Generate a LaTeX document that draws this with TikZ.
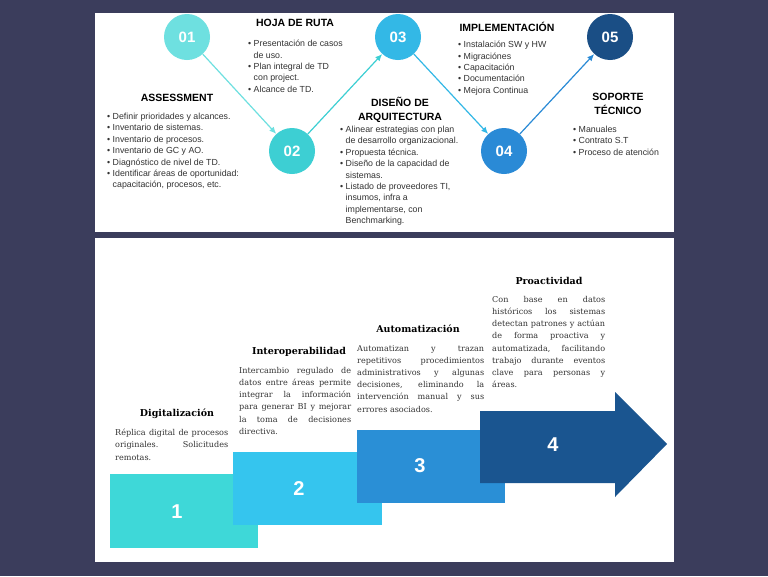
\documentclass[tikz,border=0pt]{standalone}
\usepackage{fontspec}
\setmainfont{DejaVu Serif}
\setsansfont{Liberation Sans}
\usetikzlibrary{arrows.meta}
\hyphenpenalty=10000
\exhyphenpenalty=10000
\definecolor{bg}{HTML}{3B3D5C}
\definecolor{cA}{HTML}{6EE0E0}
\definecolor{cB}{HTML}{3DCFD3}
\definecolor{cC}{HTML}{33B8E6}
\definecolor{cD}{HTML}{2A8AD6}
\definecolor{cE}{HTML}{1A4E85}
\definecolor{sA}{HTML}{3ED8D8}
\definecolor{sB}{HTML}{35C5EE}
\definecolor{sC}{HTML}{2A8FD6}
\definecolor{sD}{HTML}{1A5590}
\definecolor{txt}{HTML}{333333}
\begin{document}
\begin{tikzpicture}[x=1pt,y=-1pt,
  circ/.style={circle,minimum size=46pt,inner sep=0pt,text=white,font=\sffamily\bfseries\fontsize{15}{15}\selectfont},
  conn/.style={line width=1.2pt,-{Latex[length=7pt,width=6pt]}},
  head/.style={font=\sffamily\bfseries\fontsize{10.5}{14}\selectfont,text=black,align=center},
  lst/.style={font=\sffamily\fontsize{8.8}{11.4}\selectfont,text=txt,align=left,anchor=north west,inner sep=0pt},
  shead/.style={font=\bfseries\fontsize{9.5}{11}\selectfont,text=black},
  stxt/.style={font=\fontsize{8.1}{12.2}\selectfont,text=txt,align=justify,anchor=north west,inner sep=0pt},
  num/.style={text=white,font=\sffamily\bfseries\fontsize{20}{20}\selectfont}]
\useasboundingbox (0,0) rectangle (768,576);
\fill[bg] (0,0) rectangle (768,576);
\fill[white] (95,13) rectangle (674,232);
\fill[white] (95,238) rectangle (674,562);
% circles
\node[circ,fill=cA] (c1) at (187,37) {01};
\node[circ,fill=cB] (c2) at (292,151) {02};
\node[circ,fill=cC] (c3) at (398,37) {03};
\node[circ,fill=cD] (c4) at (504,151) {04};
\node[circ,fill=cE] (c5) at (610,37) {05};
\draw[conn,cA] (c1) -- (c2);
\draw[conn,cB] (c2) -- (c3);
\draw[conn,cC] (c3) -- (c4);
\draw[conn,cD] (c4) -- (c5);
% texts top
\node[head] (h1) at (295,23) {HOJA DE RUTA};
\node[lst] (l1) at (248,40) {• Presentación de casos\\\phantom{• }de uso.\\• Plan integral de TD\\\phantom{• }con project.\\• Alcance de TD.};
\node[head] (h2) at (177,98) {ASSESSMENT};
\node[lst] (l2) at (107,113) {• Definir prioridades y alcances.\\• Inventario de sistemas.\\• Inventario de procesos.\\• Inventario de GC y AO.\\• Diagnóstico de nivel de TD.\\• Identificar áreas de oportunidad:\\\phantom{• }capacitación, procesos, etc.};
\node[head] (h3) at (400,110) {DISEÑO DE\\ARQUITECTURA};
\node[lst] (l3) at (340,126) {• Alinear estrategias con plan\\\phantom{• }de desarrollo organizacional.\\• Propuesta técnica.\\• Diseño de la capacidad de\\\phantom{• }sistemas.\\• Listado de proveedores TI,\\\phantom{• }insumos, infra a\\\phantom{• }implementarse, con\\\phantom{• }Benchmarking.};
\node[head] (h4) at (507,27) {IMPLEMENTACIÓN};
\node[lst] (l4) at (458,41) {• Instalación SW y HW\\• Migraciónes\\• Capacitación\\• Documentación\\• Mejora Continua};
\node[head] (h5) at (618,104) {SOPORTE\\TÉCNICO};
\node[lst] (l5) at (573,126) {• Manuales\\• Contrato S.T\\• Proceso de atención};
% steps
\fill[sA] (110,474) rectangle (258,548);
\fill[sB] (233,452) rectangle (382,525);
\fill[sC] (357,430) rectangle (505,503);
\fill[sD] (480,411) -- (615,411) -- (615,392) -- (667,444) -- (615,497) -- (615,483) -- (480,483) -- cycle;
\node[num] (n1) at (177,512) {1};
\node[num] (n2) at (299,489) {2};
\node[num] (n3) at (420,466) {3};
\node[num] (n4) at (553,445) {4};
\node[shead] (t1) at (177,414) {Digitalización};
\node[stxt,text width=113pt] (d1) at (115,429) {Réplica digital de procesos originales. Solicitudes remotas.};
\node[stxt,text width=112pt] (d2) at (239,367) {Intercambio regulado de datos entre áreas permite integrar la información para generar BI y mejorar la toma de decisiones directiva.};
\node[shead] (t2) at (299,352) {Interoperabilidad};
\node[shead] (t3) at (418,329) {Automatización};
\node[stxt,text width=127pt] (d3) at (357,345) {Automatizan y trazan repetitivos procedimientos administrativos y algunas decisiones, eliminando la intervención manual y sus errores asociados.};
\node[shead] (t4) at (549,281) {Proactividad};
\node[stxt,text width=113pt] (d4) at (492,296) {Con base en datos históricos los sistemas detectan patrones y actúan de forma proactiva y automatizada, facilitando trabajo durante eventos clave para personas y áreas.};
\end{tikzpicture}
\end{document}
